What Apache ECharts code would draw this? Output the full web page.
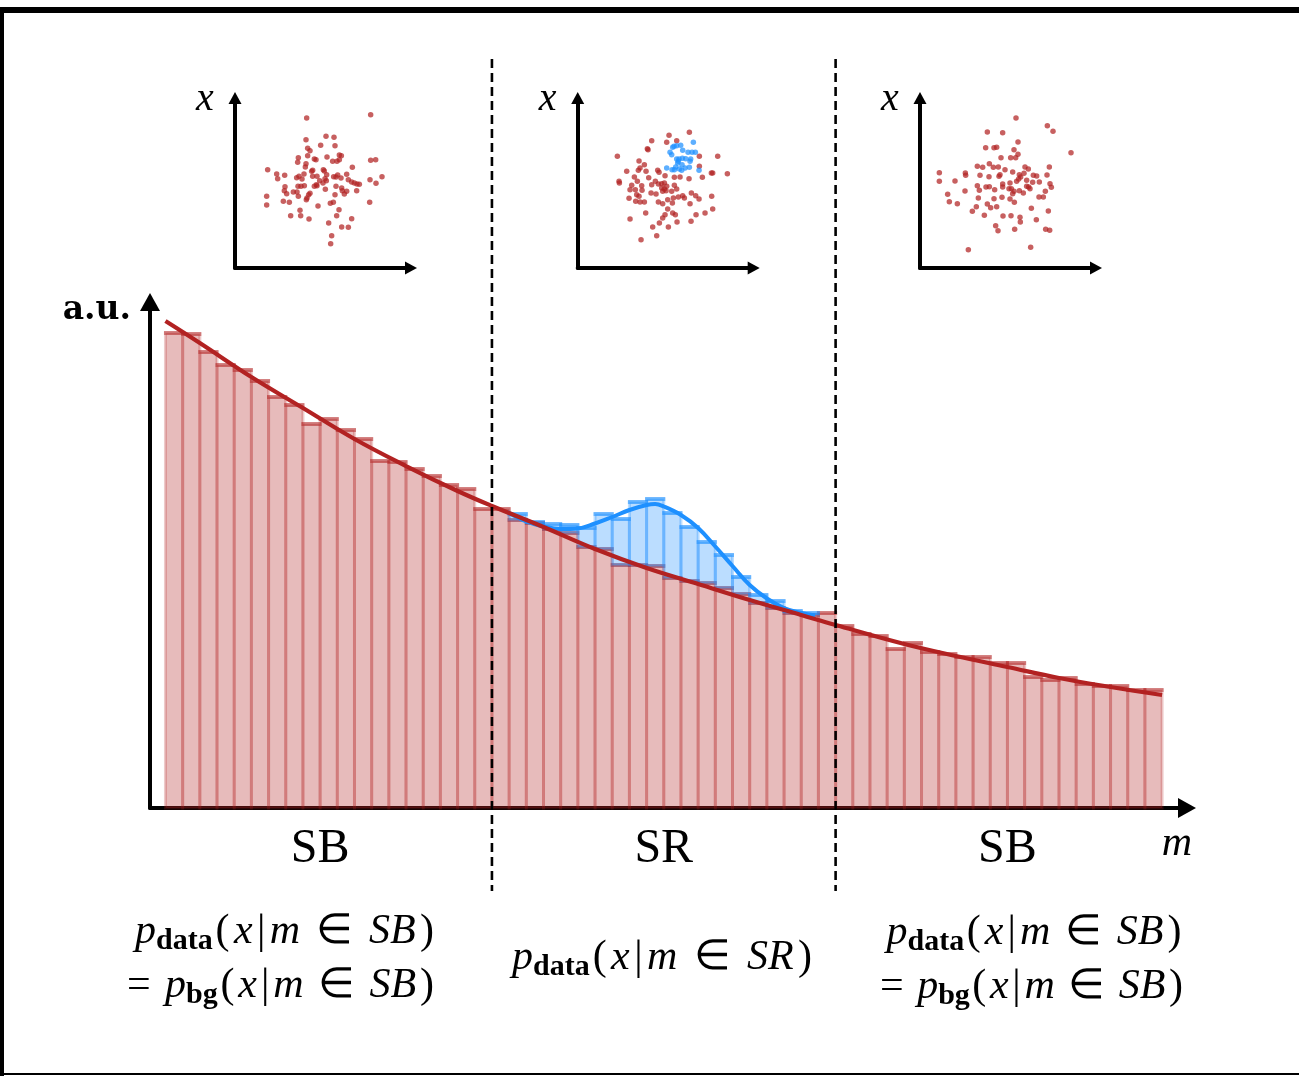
<!DOCTYPE html>
<html><head><meta charset="utf-8">
<script src="https://cdn.jsdelivr.net/npm/echarts@6/dist/echarts.min.js"></script>
<style>html,body{margin:0;padding:0;background:#fff}#c{width:1299px;height:1076px}</style>
</head><body><div id="c"></div><script>
// ---------- DATA ----------
// background histogram, one value per mass bin (58 bins), a.u.
const bgCounts = [475,474,456,443,438,427,411,403,384,389,378,369,347,346,339,332,323,319,299,
  299,288,285,279,275,261,259,243,243,242,230,227,225,220,214,205,200,195,193,195,
  182,174,172,159,165,156,154,151,151,145,145,131,128,130,124,122,122,118,118];
// signal excess in the signal region bins (first SR bin = 19)
const srFirstBin = 19;
const sigCounts = [0,6,1,5,8,19,35,46,63,67,65,54,41,33,17,8,7,2,2,0];
// background fit curve
const bgFitX = [0,2,5,8,11,14,17,19,22,25,28,31,34,37,39,43,46,49,52,55,58];
const bgFitY = [487,465,431,400,369,342,317,302,281,259,240,224,208,193,183,164,152,141,130,121,113];
// data (bg + signal) fit curve in SR
const dataFitX = [19.9,21,22,23,24,25,26,27,28,28.5,29,30,31,32,33,34,35,36,37,37.8];
const dataFitY = [296,286.5,281.5,279,279.5,284.5,291,298,303,304,301.5,293,280,261.5,242,223,209.5,200,195,192.5];
// region boundaries (bin edges) and names
const regionEdges = [19, 39];
const regionNames = ['SB', 'SR', 'SB'];
// inset scatter samples (x, feature)
const lowSB = [[215,450],[407,460],[273,395],[297,392],[213,385],[257,368],[300,367],[218,359],[225,352],[313,339],[190,331],[218,337],[276,333],[319,337],[313,325],[238,327],[243,325],[407,323],[422,325],[188,317],[213,313],[293,320],[306,320],[211,303],[352,302],[98,295],[233,293],[230,290],[265,295],[268,291],[125,282],[149,278],[207,282],[275,280],[246,275],[335,281],[308,279],[303,273],[128,268],[185,271],[192,275],[201,267],[233,275],[270,268],[296,274],[318,270],[441,274],[254,262],[274,262],[340,265],[405,265],[350,258],[423,254],[244,250],[264,255],[358,255],[366,252],[373,251],[150,244],[189,245],[198,245],[208,247],[238,245],[246,247],[303,245],[320,240],[365,232],[148,232],[175,228],[186,228],[271,236],[322,232],[335,230],[155,223],[225,224],[221,220],[328,222],[95,215],[190,215],[216,210],[214,205],[300,220],[145,200],[163,197],[286,194],[295,197],[404,197],[95,189],[249,186],[195,173],[312,175],[167,157],[197,157],[305,157],[350,148],[222,147],[281,135],[320,123],[340,122],[290,97],[287,73]];
const srBg = [[274,398],[335,407],[222,382],[267,377],[297,382],[209,358],[211,355],[119,335],[184,321],[200,310],[240,293],[187,300],[205,290],[147,290],[244,287],[365,305],[401,285],[405,285],[449,283],[420,335],[365,335],[262,277],[307,273],[334,268],[374,272],[290,272],[213,271],[233,260],[170,273],[124,260],[125,255],[179,260],[162,248],[192,247],[222,250],[242,252],[252,253],[260,255],[267,245],[290,248],[157,235],[173,235],[193,233],[220,225],[235,222],[252,240],[260,237],[255,230],[265,232],[297,237],[282,230],[341,225],[354,217],[302,213],[315,217],[320,210],[287,210],[270,205],[154,209],[177,220],[184,215],[187,198],[174,200],[200,198],[242,198],[255,193],[284,195],[337,193],[364,207],[402,215],[382,165],[405,177],[355,160],[270,177],[285,165],[293,160],[262,160],[255,150],[245,135],[272,123],[298,138],[340,140],[204,165],[157,147],[225,123],[237,97],[190,85],[182,293]];
const srSig = [[289,365],[297,367],[309,368],[285,362],[347,377],[277,347],[282,340],[315,353],[331,347],[343,347],[353,347],[297,327],[304,327],[314,329],[324,328],[339,327],[302,320],[300,315],[313,310],[337,320],[294,303],[305,297],[322,300],[335,302],[364,293],[267,300],[283,295],[290,295],[312,293]];
const highSB = [[288,450],[382,427],[399,410],[202,408],[248,406],[294,378],[197,361],[222,361],[230,362],[282,355],[294,341],[453,346],[243,331],[272,331],[287,331],[208,313],[172,305],[188,302],[220,302],[235,303],[255,295],[315,303],[325,297],[388,303],[58,286],[136,285],[137,278],[180,278],[207,274],[237,275],[240,280],[278,288],[298,280],[312,284],[340,278],[350,276],[381,279],[58,260],[105,261],[208,244],[198,243],[224,235],[248,252],[248,243],[270,255],[290,260],[296,267],[302,273],[320,263],[338,257],[358,258],[390,253],[394,242],[172,247],[178,233],[135,231],[267,238],[274,238],[282,230],[278,223],[298,232],[310,225],[326,243],[330,238],[320,245],[376,230],[83,221],[175,210],[222,208],[246,212],[270,207],[283,197],[357,213],[370,213],[88,199],[112,193],[202,192],[212,181],[230,184],[169,184],[157,170],[193,158],[249,156],[273,157],[300,152],[301,138],[334,179],[349,145],[385,171],[227,127],[234,112],[284,116],[377,116],[389,113],[145,55],[332,62]];

// ---------- STYLE ----------
const RED = '#b22222', BLUE = '#1e90ff';
const redFill = 'rgba(178,34,34,0.31)', redEdge = 'rgba(178,34,34,0.24)', redCap = 'rgba(178,34,34,0.5)';
const blueFill = 'rgba(30,144,255,0.30)', blueEdge = 'rgba(30,144,255,0.30)', blueCap = 'rgba(30,144,255,0.55)';

const chart = echarts.init(document.getElementById('c'), null, {renderer: 'canvas'});

const axisHidden = {axisTick: {show: false}, axisLabel: {show: false}, splitLine: {show: false}};
function axLine(w, sym) {
  return {show: true, onZero: false, symbol: ['none', 'triangle'], symbolSize: sym,
    lineStyle: {color: '#000', width: w}};
}
const insetLeft = [235, 577.7, 920];

const grids = [{left: 150, top: 302, width: 1037, height: 506}];
const xAxes = [Object.assign({type: 'value', gridIndex: 0, min: -0.9, max: 59.45, axisLine: axLine(4, [20, 18])}, axisHidden)];
const yAxes = [Object.assign({type: 'value', gridIndex: 0, min: 0, max: 506, axisLine: axLine(4, [20, 18])}, axisHidden)];
insetLeft.forEach((l, k) => {
  grids.push({left: l, top: 98, width: 176, height: 170});
  xAxes.push(Object.assign({type: 'value', gridIndex: k + 1, min: 0, max: 528, axisLine: axLine(4, [13, 12])}, axisHidden));
  yAxes.push(Object.assign({type: 'value', gridIndex: k + 1, min: 0, max: 510, axisLine: axLine(4, [13, 12])}, axisHidden));
});

function barItem(api, x0, x1, yTop, yBot, fill, edge, cap) {
  const a = api.coord([x0, yTop]), b = api.coord([x1, yBot]);
  return {type: 'group', children: [
    {type: 'rect', shape: {x: a[0], y: a[1], width: b[0] - a[0], height: b[1] - a[1]},
      style: {fill: fill, stroke: edge, lineWidth: 3}},
    {type: 'line', shape: {x1: a[0] - 1.5, y1: a[1], x2: b[0] + 1.5, y2: a[1]},
      style: {stroke: cap, lineWidth: 4}}
  ]};
}

const bgData = bgCounts.map((v, i) => [i, v]);
const sigData = sigCounts.map((s, j) => [srFirstBin + j, bgCounts[srFirstBin + j], bgCounts[srFirstBin + j] + s]).filter(d => d[2] > d[1]);

function scatter(idx, data, color) {
  return {type: 'scatter', xAxisIndex: idx, yAxisIndex: idx, data: data, symbolSize: 5.5,
    itemStyle: {color: color}, silent: true, z: 5};
}

const series = [
  {type: 'custom', xAxisIndex: 0, yAxisIndex: 0, data: bgData, z: 2, silent: true,
    renderItem: (p, api) => barItem(api, api.value(0), api.value(0) + 1, api.value(1), 0, redFill, redEdge, redCap)},
  {type: 'custom', xAxisIndex: 0, yAxisIndex: 0, data: sigData, z: 3, silent: true,
    renderItem: (p, api) => barItem(api, api.value(0), api.value(0) + 1, api.value(2), api.value(1), blueFill, blueEdge, blueCap)},
  {type: 'line', xAxisIndex: 0, yAxisIndex: 0, data: dataFitX.map((x, i) => [x, dataFitY[i]]), smooth: 0.4,
    showSymbol: false, lineStyle: {color: BLUE, width: 4}, z: 4, silent: true},
  {type: 'line', xAxisIndex: 0, yAxisIndex: 0, data: bgFitX.map((x, i) => [x, bgFitY[i]]), smooth: 0.4,
    showSymbol: false, lineStyle: {color: RED, width: 4.2}, z: 5, silent: true},
  scatter(1, lowSB, 'rgba(178,34,34,0.9)'),
  scatter(2, srBg, 'rgba(178,34,34,0.9)'),
  scatter(3, highSB, 'rgba(178,34,34,0.9)'),
  Object.assign(scatter(2, srSig, 'rgba(30,144,255,0.9)'), {z: 6})
];

chart.setOption({animation: false, backgroundColor: '#fff', grid: grids, xAxis: xAxes, yAxis: yAxes, series: series});

// ---------- TEXT & DECORATION ----------
const SERIF = '"Liberation Serif"';
const mctx = document.createElement('canvas').getContext('2d');
const MAIN = 42, SUB = 30;
function tokFont(kind) {
  if (kind === 'i') return 'italic ' + MAIN + 'px ' + SERIF;
  if (kind === 's') return 'bold ' + SUB + 'px ' + SERIF;
  return MAIN + 'px ' + SERIF;
}
function tw(t, f) { mctx.font = f; return mctx.measureText(t).width; }
// lay out tokens centred at cx; extra space (to reach the reference width) is spread by weights
function formula(tokens, cx, baseline, target) {
  const ws = tokens.map(([t, k]) => tw(t, tokFont(k)));
  const nat = ws.reduce((a, b) => a + b, 0);
  const wsum = tokens.reduce((a, tk) => a + (tk[2] || 0), 0);
  const unit = Math.max(0, (target - nat) / wsum);
  let x = cx - (nat + unit * wsum) / 2;
  return tokens.map(([t, k, gw], i) => {
    x += (gw || 0) * unit;
    const fs = k === 's' ? SUB : MAIN;
    const base = k === 's' ? baseline + 5 : baseline;
    const el = {type: 'text', z: 100, x: x, y: base - 0.34 * fs,
      style: {text: t, font: tokFont(k), fill: '#000', textAlign: 'left', textVerticalAlign: 'middle'}};
    x += ws[i];
    return el;
  });
}
const tail = (reg) => [['(', 'r', 0.4], ['x', 'i', 0.6], ['|', 'r', 0.6], ['m', 'i', 0.6], ['\u2208', 'r', 2.2], [reg, 'i', 2.2], [')', 'r', 0.6]];
const lineData = (reg) => [['p', 'i', 0], ['data', 's', 0]].concat(tail(reg));
const lineBg = (reg) => [['=', 'r', 0], ['p', 'i', 2.2], ['bg', 's', 0]].concat(tail(reg));

const xb = regionEdges.map(e => chart.convertToPixel({xAxisIndex: 0}, e));
const span = xb[1] - xb[0];
const labelX = [xb[0] - span / 2, (xb[0] + xb[1]) / 2, xb[1] + span / 2];

const g = [];
// frame
g.push({type: 'line', z: 100, shape: {x1: 0, y1: 10, x2: 1299, y2: 10}, style: {stroke: '#000', lineWidth: 6}});
g.push({type: 'line', z: 100, shape: {x1: 2, y1: 7, x2: 2, y2: 1076}, style: {stroke: '#000', lineWidth: 4}});
g.push({type: 'line', z: 100, shape: {x1: 0, y1: 1074, x2: 1299, y2: 1074}, style: {stroke: '#000', lineWidth: 2}});
// dashed separators
xb.forEach(x => g.push({type: 'line', z: 100, shape: {x1: x, y1: 59, x2: x, y2: 891},
  style: {stroke: '#000', lineWidth: 2.6, lineDash: [9, 5]}}));
// region names
regionNames.forEach((n, i) => g.push({type: 'text', z: 100, x: labelX[i], y: 849,
  style: {text: n, font: '48px ' + SERIF, fill: '#000', textAlign: 'center', textVerticalAlign: 'middle'}}));
// axis names
g.push({type: 'text', z: 100, x: 131, y: 322 - 0.35 * 33,
  style: {text: 'a.u.', font: 'bold 33px "DejaVu Serif"', fill: '#000', textAlign: 'right', textVerticalAlign: 'middle'}});
g.push({type: 'text', z: 100, x: 1177, y: 858 - 0.34 * 42,
  style: {text: 'm', font: 'italic 42px ' + SERIF, fill: '#000', textAlign: 'center', textVerticalAlign: 'middle'}});
insetLeft.forEach(l => g.push({type: 'text', z: 100, x: l - 30, y: 113 - 0.34 * 40,
  style: {text: 'x', font: 'italic 40px ' + SERIF, fill: '#000', textAlign: 'center', textVerticalAlign: 'middle'}}));
// formulas
[].concat(
  formula(lineData('SB'), 284.5, 946, 299),
  formula(lineBg('SB'), 280.5, 1000, 307),
  formula(lineData('SR'), 662, 972, 300),
  formula(lineData('SB'), 1034, 947, 295),
  formula(lineBg('SB'), 1031.5, 1001, 303)
).forEach(e => g.push(e));

chart.setOption({graphic: g});
</script></body></html>
